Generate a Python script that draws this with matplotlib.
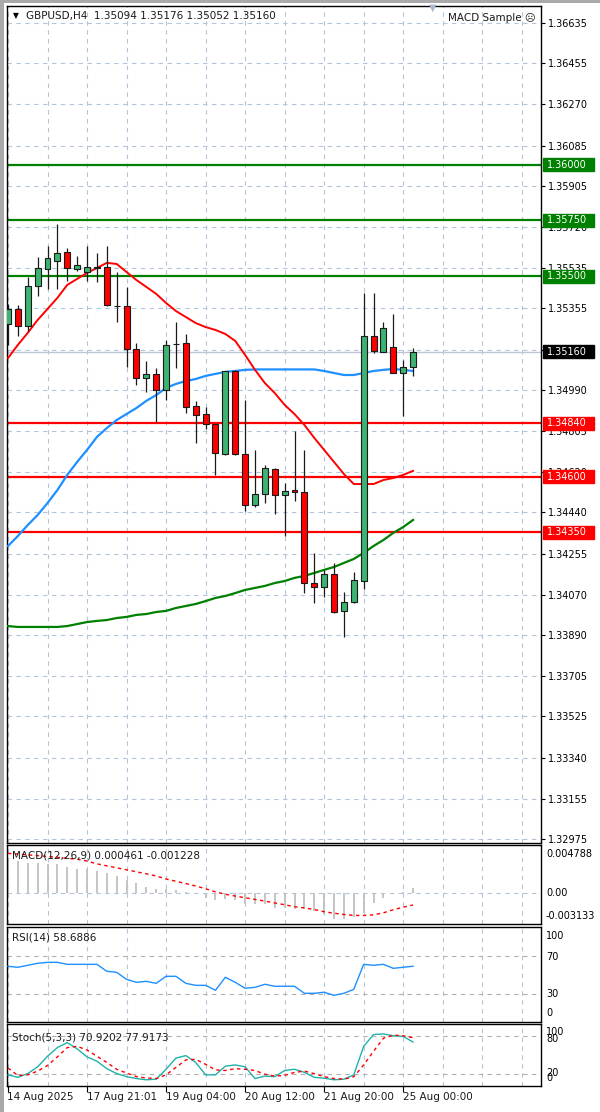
import matplotlib
matplotlib.use('Agg')
import matplotlib.pyplot as plt
import matplotlib.transforms as mtransforms
from matplotlib.patches import Rectangle

plt.rcParams['font.family'] = ['DejaVu Sans']

W, H = 600, 1112

# ---------------- data ----------------
open_ = [1.35285, 1.35352, 1.35276, 1.35455, 1.35532, 1.35568, 1.35608, 1.35532, 1.35518, 1.35536,
         1.35541, 1.35366, 1.35366, 1.35173, 1.35043, 1.35061, 1.34989, 1.35195, 1.35200, 1.34917,
         1.34881, 1.34836, 1.34702, 1.35074, 1.34702, 1.34473, 1.34522, 1.34635, 1.34518, 1.34540,
         1.34531, 1.34123, 1.34105, 1.34164, 1.33998, 1.34038, 1.34132, 1.35231, 1.35160, 1.35182,
         1.35065, 1.35094]
high = [1.35375, 1.35370, 1.35496, 1.35585, 1.35635, 1.35733, 1.35626, 1.35590, 1.35635, 1.35603,
        1.35635, 1.35518, 1.35451, 1.35200, 1.35119, 1.35088, 1.35213, 1.35294, 1.35240, 1.34940,
        1.34913, 1.34836, 1.35074, 1.35079, 1.34944, 1.34720, 1.34652, 1.34639, 1.34572, 1.34805,
        1.34720, 1.34258, 1.34182, 1.34213, 1.34083, 1.34173, 1.35424, 1.35424, 1.35294, 1.35330,
        1.35123, 1.35176]
low = [1.35191, 1.35231, 1.35254, 1.35411, 1.35442, 1.35442, 1.35478, 1.35523, 1.35478, 1.35473,
       1.35366, 1.35294, 1.35092, 1.35011, 1.34980, 1.34845, 1.34944, 1.35088, 1.34886, 1.34751,
       1.34814, 1.34608, 1.34697, 1.34697, 1.34446, 1.34464, 1.34482, 1.34433, 1.34334, 1.34491,
       1.34078, 1.34034, 1.34060, 1.33989, 1.33881, 1.34034, 1.34096, 1.35155, 1.35160, 1.35065,
       1.34872, 1.35052]
close = [1.35352, 1.35276, 1.35455, 1.35536, 1.35581, 1.35603, 1.35536, 1.35550, 1.35541, 1.35541,
         1.35370, 1.35365, 1.35173, 1.35043, 1.35061, 1.34989, 1.35191, 1.35195, 1.34913, 1.34877,
         1.34836, 1.34706, 1.35074, 1.34702, 1.34473, 1.34522, 1.34639, 1.34518, 1.34536, 1.34531,
         1.34123, 1.34105, 1.34164, 1.33993, 1.34038, 1.34137, 1.35231, 1.35164, 1.35267, 1.35065,
         1.35092, 1.35160]

ma_red = [1.35132, 1.35191, 1.35245, 1.35303, 1.35352, 1.35402, 1.35460, 1.35487, 1.35514, 1.35536,
          1.35559, 1.35554, 1.35518, 1.35482, 1.35451, 1.35420, 1.35379, 1.35343, 1.35316, 1.35289,
          1.35271, 1.35258, 1.35240, 1.35209, 1.35146, 1.35079, 1.35020, 1.34975, 1.34922, 1.34881,
          1.34832, 1.34774, 1.34720, 1.34666, 1.34612, 1.34567, 1.34567, 1.34567, 1.34585, 1.34594,
          1.34608, 1.34626]
ma_blue = [1.34289, 1.34334, 1.34383, 1.34428, 1.34482, 1.34540, 1.34608, 1.34666, 1.34720, 1.34778,
           1.34818, 1.34854, 1.34881, 1.34908, 1.34940, 1.34966, 1.34998, 1.35016, 1.35029, 1.35038,
           1.35052, 1.35061, 1.35070, 1.35074, 1.35079, 1.35081, 1.35081, 1.35081, 1.35081, 1.35081,
           1.35081, 1.35081, 1.35074, 1.35065, 1.35056, 1.35056, 1.35065, 1.35074, 1.35079, 1.35083,
           1.35079, 1.35074]
ma_green = [1.33930, 1.33926, 1.33926, 1.33926, 1.33926, 1.33926, 1.33930, 1.33939, 1.33948, 1.33953,
            1.33957, 1.33966, 1.33971, 1.33980, 1.33984, 1.33993, 1.33998, 1.34011, 1.34020, 1.34029,
            1.34042, 1.34056, 1.34065, 1.34078, 1.34092, 1.34101, 1.34110, 1.34123, 1.34132, 1.34146,
            1.34155, 1.34168, 1.34182, 1.34195, 1.34213, 1.34231, 1.34258, 1.34289, 1.34316, 1.34348,
            1.34374, 1.34406]

macd_main = [0.00334, 0.00317, 0.00301, 0.00301, 0.00291, 0.00284, 0.00261, 0.00241, 0.00241, 0.00217,
             0.00201, 0.00167, 0.00127, 0.00100, 0.00057, 0.00040, 0.00033, 0.00023, 0.00007, -0.00007,
             -0.00050, -0.00074, -0.00067, -0.00077, -0.00117, -0.00117, -0.00117, -0.00150, -0.00150, -0.00167,
             -0.00167, -0.00184, -0.00217, -0.00261, -0.00261, -0.00241, -0.00200, -0.00107, -0.00050, -0.00010,
             0.00005, 0.000461]
macd_signal = [0.00395, 0.00388, 0.00380, 0.00372, 0.00364, 0.00355, 0.00345, 0.00336, 0.00318, 0.00290,
               0.00270, 0.00250, 0.00230, 0.00210, 0.00190, 0.00168, 0.00138, 0.00115, 0.00092, 0.00068,
               0.00040, 0.00009, -0.00015, -0.00033, -0.00050, -0.00067, -0.00084, -0.00102, -0.00120, -0.00140,
               -0.00152, -0.00168, -0.00190, -0.00205, -0.00218, -0.00227, -0.00228, -0.00222, -0.00201, -0.00170,
               -0.00145, -0.001228]

rsi = [58.6, 57.6, 59.7, 61.8, 62.8, 62.8, 60.7, 60.7, 60.7, 60.7,
       53.4, 52.3, 44.9, 41.8, 42.8, 40.7, 48.1, 48.1, 40.7, 38.6,
       38.6, 33.4, 47.1, 41.8, 35.5, 36.5, 39.7, 37.6, 37.6, 37.6,
       30.2, 30.2, 31.3, 28.1, 30.2, 34.4, 60.7, 59.7, 60.7, 56.5,
       57.6, 58.69]

stoch_k = [18, 14, 20, 31, 48, 62, 70, 60, 47, 40,
           28, 20, 15, 12, 10, 11, 27, 45, 49, 38,
           18, 18, 32, 34, 31, 12, 16, 15, 25, 27,
           22, 14, 12.5, 10, 11, 18, 64, 83, 84, 81,
           80, 70.92]
stoch_d = [29, 17, 18, 24, 33, 47, 62, 64, 58, 48,
           38, 27, 21, 15, 13, 12, 18, 30, 42, 43,
           35, 26, 25, 28, 27, 25, 19, 16, 17, 22,
           24, 20, 15, 12, 11, 15, 34, 56, 77, 82,
           81, 77.92]

resistance_levels = [1.36000, 1.35750, 1.35500]
support_levels = [1.34840, 1.34600, 1.34350]
last_price = 1.35160
price_ticks = [1.36635, 1.36455, 1.36270, 1.36085, 1.35905, 1.35720, 1.35535, 1.35355, 1.35170,
               1.34990, 1.34805, 1.34620, 1.34440, 1.34255, 1.34070, 1.33890, 1.33705, 1.33525,
               1.33340, 1.33155, 1.32975]
time_labels = ["14 Aug 2025", "17 Aug 21:01", "19 Aug 04:00", "20 Aug 12:00", "21 Aug 20:00", "25 Aug 00:00"]
time_label_idx = [0, 8, 16, 24, 32, 40]

header = "GBPUSD,H4  1.35094 1.35176 1.35052 1.35160"
macd_title = "MACD(12,26,9) 0.000461 -0.001228"
rsi_title = "RSI(14) 58.6886"
stoch_title = "Stoch(5,3,3) 70.9202 77.9173"

# ---------------- layout helpers ----------------
fig = plt.figure(figsize=(W / 100, H / 100), dpi=100)
fig.patch.set_facecolor('white')


def px_axes(l, t, r, b):
    return fig.add_axes([l / W, 1 - b / H, (r - l) / W, (b - t) / H])


def ftext(x, y, s, **kw):
    kw.setdefault('fontsize', 7)
    kw.setdefault('va', 'center')
    kw.setdefault('ha', 'left')
    return fig.text(x / W, 1 - y / H, s, **kw)


XMIN, XMAX = -0.1, 53.95
GRID_C = '#b4c4da'
GRID_LS = (0, (4, 4))
n = len(close)
idx = list(range(n))

ax = px_axes(7, 6, 541, 843)
ax_macd = px_axes(7, 845, 541, 924)
ax_rsi = px_axes(7, 927, 541, 1022)
ax_st = px_axes(7, 1024, 541, 1086)

for a in (ax, ax_macd, ax_rsi, ax_st):
    a.set_xlim(XMIN, XMAX)
    for s in a.spines.values():
        s.set_color('black')
        s.set_linewidth(1.0)
    a.set_xticks([])
    a.set_yticks([])
    for gx in range(0, 54, 4):
        a.axvline(gx, color=GRID_C, lw=0.8, ls=GRID_LS, zorder=0)

# ---------------- main chart ----------------
ax.set_ylim(1.32957, 1.36711)
for p in price_ticks:
    ax.axhline(p, color=GRID_C, lw=0.8, ls=GRID_LS, zorder=0)
ax.yaxis.tick_right()
ax.set_yticks(price_ticks)
ax.set_yticklabels([f"{p:.5f}" for p in price_ticks])
ax.tick_params(axis='y', length=3, width=0.8, pad=2, labelsize=7, colors='black')

ax.axhline(last_price, color='#bcc6d6', lw=1.0, zorder=1)

for lv in resistance_levels:
    ax.axhline(lv, color='#008000', lw=1.6, zorder=2)
for lv in support_levels:
    ax.axhline(lv, color='#ff0000', lw=1.6, zorder=2)

ax.plot(idx, ma_green, color='#008000', lw=1.6, zorder=3)
ax.plot(idx, ma_blue, color='#1e90ff', lw=1.6, zorder=3)
ax.plot(idx, ma_red, color='#ff0000', lw=1.4, zorder=3)

bw = 0.6
for i in idx:
    o, h, l, c = open_[i], high[i], low[i], close[i]
    ax.vlines(i, l, h, color='#1a1a1a', lw=0.9, zorder=4)
    bull = c >= o
    bottom = min(o, c)
    height = max(abs(c - o), 0.000015)
    ax.bar(i, height, bottom=bottom, width=bw,
           color='#3cb371' if bull else '#ff0000',
           edgecolor='#1a1a1a', linewidth=0.8, zorder=5)

# price boxes on the right axis
trans = mtransforms.blended_transform_factory(fig.transFigure, ax.transData)
box_h = 13 / 22295


def price_box(p, face):
    r = Rectangle((543 / W, p - box_h / 2), 51 / W, box_h, transform=trans,
                  facecolor=face, edgecolor=face, clip_on=False, zorder=10)
    ax.add_artist(r)
    ax.text(547 / W, p, f"{p:.5f}", transform=trans, color='white', fontsize=7,
            va='center', ha='left', clip_on=False, zorder=11)


for lv in resistance_levels:
    price_box(lv, '#008000')
for lv in support_levels:
    price_box(lv, '#ff0000')
price_box(last_price, '#000000')

# header texts
ftext(16, 16, '▼', fontsize=5.5, ha='center', color='black')
ftext(26, 16.5, header, fontsize=7.5, color='#1a1a1a')
ftext(536, 18, 'MACD Sample ☹', fontsize=7.5, ha='right', color='#1a1a1a')
ftext(433, 8, '▼', fontsize=7, ha='center', color='#aab8cc')

# ---------------- MACD ----------------
ax_macd.set_ylim(-0.003133, 0.004788)
ax_macd.axhline(0, color=GRID_C, lw=0.8, ls=GRID_LS, zorder=0)
ax_macd.vlines(idx, 0, macd_main, color='#c0c0c0', lw=1.3, zorder=2)
ax_macd.plot(idx, macd_signal, color='#ff0000', lw=1.0, ls=(0, (2.5, 2.5)), zorder=3)
ftext(12, 856, macd_title, fontsize=7.5, color='#1a1a1a')
ftext(546, 854, '0.004788')
ftext(546, 893, '0.00')
ftext(546, 916, '-0.003133')

# ---------------- RSI ----------------
ax_rsi.set_ylim(0, 100)
for lv in (70, 30):
    ax_rsi.axhline(lv, color='#b0b0b0', lw=0.8, ls=GRID_LS, zorder=0)
ax_rsi.plot(idx, rsi, color='#1e90ff', lw=1.0, zorder=3)
ftext(12, 938, rsi_title, fontsize=7.5, color='#1a1a1a')
ftext(546, 936, '100')
ftext(546, 957, '70')
ftext(546, 994, '30')
ftext(546, 1013, '0')

# ---------------- Stochastic ----------------
ax_st.set_ylim(0, 100)
for lv in (80, 20):
    ax_st.axhline(lv, color='#b0b0b0', lw=0.8, ls=GRID_LS, zorder=0)
ax_st.plot(idx, stoch_k, color='#20b2aa', lw=1.0, zorder=3)
ax_st.plot(idx, stoch_d, color='#ff0000', lw=1.0, ls=(0, (2.5, 2.5)), zorder=3)
ftext(12, 1037, stoch_title, fontsize=7.5, color='#1a1a1a')
ftext(546, 1032, '100')
ftext(546, 1039, '80')
ftext(546, 1073, '20')
ftext(546, 1078, '0')

ax_st.set_xticks(time_label_idx)
ax_st.set_xticklabels([''] * len(time_label_idx))
ax_st.tick_params(axis='x', direction='out', length=4, width=0.8, colors='black')
xtrans = mtransforms.blended_transform_factory(ax_st.transData, fig.transFigure)
for i, lab in zip(time_label_idx, time_labels):
    ax_st.text(i - 0.05, 1 - 1097 / H, lab, transform=xtrans, fontsize=7.5, ha='left',
               va='center', color='#1a1a1a', clip_on=False)

# window frame
fig.add_artist(Rectangle((0, 1 - 3 / H), 1, 3 / H, transform=fig.transFigure,
                         facecolor='#a9a9a9', edgecolor='none'))
fig.add_artist(Rectangle((0, 0), 4 / W, 1, transform=fig.transFigure,
                         facecolor='#a9a9a9', edgecolor='none'))

fig.savefig('out.png', dpi=100)
